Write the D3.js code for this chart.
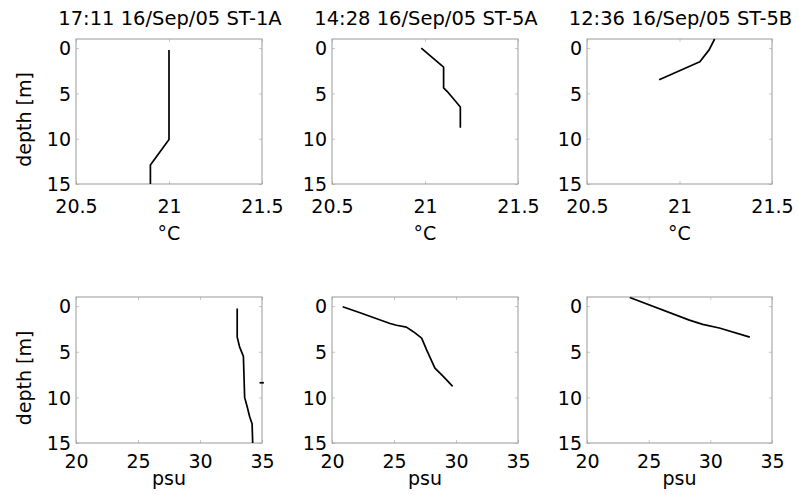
<!DOCTYPE html>
<html>
<head>
<meta charset="utf-8">
<script src="https://cdn.jsdelivr.net/npm/d3@7"></script>
<style>
  html, body { margin: 0; padding: 0; background: #fff; }
  svg { display: block; }
  text { font-family: "DejaVu Sans", Verdana, sans-serif; fill: #000; }
</style>
</head>
<body>
<svg id="chart" width="799" height="495"></svg>
<script>
// ---------- data ----------
const stationTitles = ["17:11 16/Sep/05 ST-1A", "14:28 16/Sep/05 ST-5A", "12:36 16/Sep/05 ST-5B"];
const tempTicks = [20.5, 21, 21.5];
const salTicks = [20, 25, 30, 35];
const depthTicks = [0, 5, 10, 15];
const depthDomain = [-1, 15];
const tempDomain = [20.5, 21.5];
const salDomain = [20, 35];

// ST-1A
const st1aTempDepth = [0.2, 10.1, 12.9, 15.0];
const st1aTemp      = [21.0, 21.0, 20.9, 20.9];
const st1aSalDepth  = [0.25, 3.4, 4.5, 5.5, 10.0, 11.0, 12.1, 12.9, 15.0];
const st1aSal       = [33.0, 33.0, 33.2, 33.5, 33.6, 33.8, 34.0, 34.2, 34.25];
const st1aSpikeDepth = [8.4, 8.4];
const st1aSpikeSal   = [34.8, 35.15];

// ST-5A
const st5aTempDepth = [0.0, 2.1, 4.4, 4.8, 6.5, 8.8];
const st5aTemp      = [20.98, 21.1, 21.1, 21.12, 21.19, 21.19];
const st5aSalDepth  = [0.07, 0.73, 1.24, 1.9, 2.1, 2.3, 2.8, 3.5, 4.8, 6.8, 7.7, 8.8];
const st5aSal       = [20.86, 22.26, 23.33, 24.68, 25.2, 26.0, 26.56, 27.23, 27.63, 28.3, 28.97, 29.73];

// ST-5B
const st5bTempDepth = [-1.0, 0.2, 1.5, 3.5];
const st5bTemp      = [21.19, 21.16, 21.11, 20.89];
const st5bSalDepth  = [-0.95, 1.53, 2.0, 2.4, 3.4];
const st5bSal       = [23.47, 28.3, 29.38, 30.73, 33.2];

// ---------- layout ----------
const svg = d3.select("#chart");
const colX = [76, 332, 587];
const colW = [186, 186, 185];
const rowY = [39, 297];
const rowH = [145, 146];

const panels = [
  {row:0, col:0, xd:tempDomain, xt:tempTicks, xlabel:"°C", series:[[st1aTemp, st1aTempDepth]]},
  {row:0, col:1, xd:tempDomain, xt:tempTicks, xlabel:"°C", series:[[st5aTemp, st5aTempDepth]]},
  {row:0, col:2, xd:tempDomain, xt:tempTicks, xlabel:"°C", series:[[st5bTemp, st5bTempDepth]]},
  {row:1, col:0, xd:salDomain, xt:salTicks, xlabel:"psu", series:[[st1aSal, st1aSalDepth],[st1aSpikeSal, st1aSpikeDepth]]},
  {row:1, col:1, xd:salDomain, xt:salTicks, xlabel:"psu", series:[[st5aSal, st5aSalDepth]]},
  {row:1, col:2, xd:salDomain, xt:salTicks, xlabel:"psu", series:[[st5bSal, st5bSalDepth]]},
];

const fmt = d => String(d);

panels.forEach(p => {
  const w = colW[p.col], h = rowH[p.row];
  const g = svg.append("g").attr("transform", `translate(${colX[p.col]},${rowY[p.row]})`);
  const x = d3.scaleLinear().domain(p.xd).range([0, w]);
  const y = d3.scaleLinear().domain(depthDomain).range([0, h]);

  // inner ticks on all sides
  const tickCol = "#c8c8c8";
  const bx = g.append("g").attr("transform", `translate(0,${h})`)
    .call(d3.axisBottom(x).tickValues(p.xt).tickFormat(fmt).tickSizeInner(-3).tickSizeOuter(0));
  const tx = g.append("g")
    .call(d3.axisTop(x).tickValues(p.xt).tickFormat("").tickSizeInner(-3).tickSizeOuter(0));
  const ly = g.append("g")
    .call(d3.axisLeft(y).tickValues(depthTicks).tickFormat(fmt).tickSizeInner(-3).tickSizeOuter(0));
  const ry = g.append("g").attr("transform", `translate(${w},0)`)
    .call(d3.axisRight(y).tickValues(depthTicks).tickFormat("").tickSizeInner(-3).tickSizeOuter(0));
  [bx, tx, ly, ry].forEach(a => {
    a.select(".domain").remove();
    a.selectAll(".tick line").attr("stroke", tickCol);
  });
  bx.selectAll("text").attr("y", p.row === 0 ? 29 : 25).attr("dy", null)
    .style("font-size", "19px").attr("fill", "#000");
  ly.selectAll("text").attr("x", -5).attr("dy", "0.36em")
    .style("font-size", "19px").attr("fill", "#000");

  // box
  g.append("rect").attr("x", 0).attr("y", 0).attr("width", w).attr("height", h)
    .attr("fill", "none").attr("stroke", "#999").attr("stroke-width", 1);

  // profiles
  const line = d3.line().x(d => x(d[0])).y(d => y(d[1]));
  p.series.forEach(([xs, ds]) => {
    const pts = xs.map((v, i) => [v, ds[i]]);
    g.append("path").datum(pts).attr("d", line)
      .attr("fill", "none").attr("stroke", "#000").attr("stroke-width", 1.7)
      .attr("stroke-linejoin", "round");
  });

  // x label
  g.append("text").attr("x", w / 2).attr("y", p.row === 0 ? h + 56 : h + 42)
    .attr("text-anchor", "middle").style("font-size", "19px").text(p.xlabel);

  // title
  if (p.row === 0) {
    g.append("text").attr("x", w / 2 + 1).attr("y", -14)
      .attr("text-anchor", "middle").style("font-size", "19.5px").text(stationTitles[p.col]);
  }
  // y label
  if (p.col === 0) {
    g.append("text").attr("transform", `translate(${31 - colX[0]},${h / 2 + 8}) rotate(-90)`)
      .attr("text-anchor", "middle").style("font-size", "19px").text("depth [m]");
  }
});
</script>
</body>
</html>
